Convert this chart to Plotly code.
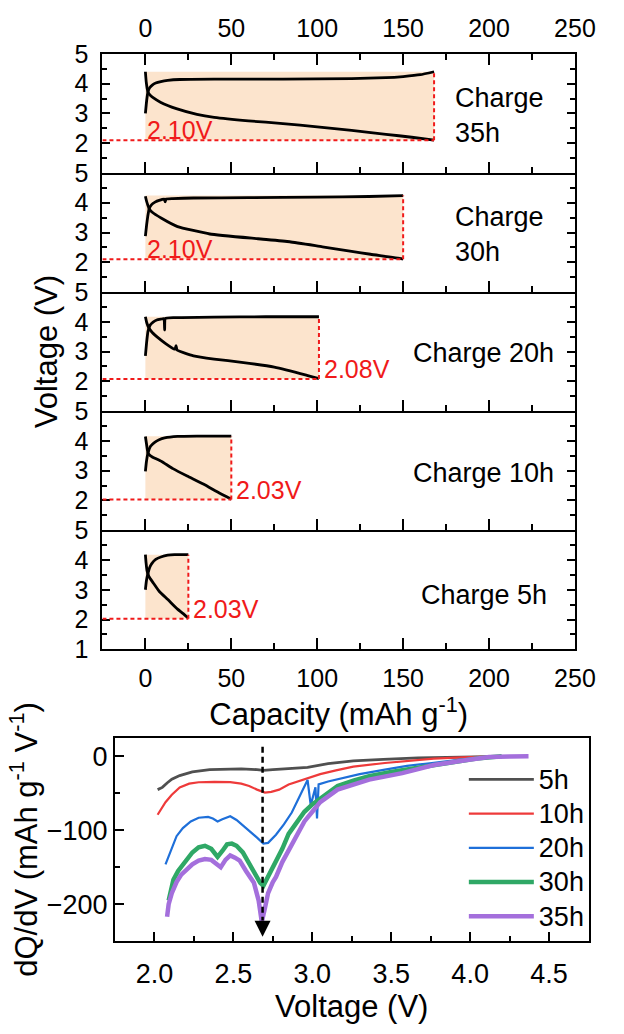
import plotly.graph_objects as go

# ---------------- Data: charge/discharge profiles (top panels) ----------------
panel_names = ["35h", "30h", "20h", "10h", "5h"]
cap_end = [168, 150, 101, 50, 25]
cutoff_v = [2.10, 2.10, 2.08, 2.03, 2.03]
top_v = [4.40, 4.24, 4.17, 4.16, 4.18]
cutoff_labels = ["2.10V", "2.10V", "2.08V", "2.03V", "2.03V"]

charge_cap_35 = [0, 0.5, 1, 1.5, 2.5, 4, 6, 9, 13, 20, 40, 80, 120, 140, 150, 160, 168]
charge_v_35 = [3.0, 3.3, 3.55, 3.73, 3.86, 3.95, 4.02, 4.07, 4.11, 4.14, 4.15, 4.15, 4.17, 4.2, 4.24, 4.3, 4.4]
dis_cap_35 = [0, 0.5, 1, 1.5, 2.5, 4.5, 9, 18, 30, 40, 60, 80, 100, 120, 140, 155, 168]
dis_v_35 = [4.4, 4.05, 3.85, 3.73, 3.63, 3.53, 3.37, 3.16, 2.97, 2.87, 2.75, 2.66, 2.55, 2.43, 2.3, 2.2, 2.1]

charge_cap_30 = [0, 0.7, 1.4, 2.2, 3.5, 5.6, 8, 11, 11.5, 12, 16, 28, 60, 100, 130, 150]
charge_v_30 = [2.88, 3.25, 3.55, 3.8, 3.93, 4.02, 4.08, 4.12, 4.03, 4.12, 4.14, 4.16, 4.17, 4.19, 4.21, 4.24]
dis_cap_30 = [0, 0.7, 1.4, 2.2, 4, 9.4, 18.7, 37.5, 65.5, 84, 103, 120, 131, 149, 150]
dis_v_30 = [4.22, 4.05, 3.92, 3.8, 3.68, 3.48, 3.2, 2.95, 2.79, 2.69, 2.52, 2.37, 2.27, 2.12, 2.1]

charge_cap_20 = [0, 0.7, 1.5, 2.8, 4.5, 6.6, 9, 10.8, 11.2, 11.6, 16.9, 40, 70, 101]
charge_v_20 = [2.86, 3.3, 3.68, 3.89, 3.99, 4.06, 4.09, 4.11, 3.73, 4.11, 4.14, 4.16, 4.17, 4.17]
dis_cap_20 = [0, 0.8, 1.9, 4, 7.5, 12, 16.9, 17.4, 17.8, 18.5, 28, 40, 56, 75, 93.6, 101]
dis_v_20 = [4.17, 3.97, 3.81, 3.64, 3.46, 3.26, 3.08, 3.1, 3.2, 3.05, 2.86, 2.75, 2.64, 2.48, 2.21, 2.09]

charge_cap_10 = [0, 0.6, 1.5, 3, 5.6, 8, 11.2, 18.7, 30, 50]
charge_v_10 = [2.98, 3.3, 3.6, 3.82, 3.96, 4.04, 4.1, 4.15, 4.16, 4.16]
dis_cap_10 = [0, 0.7, 1.5, 3, 5.5, 9.4, 16, 24.3, 33.7, 43, 50]
dis_v_10 = [4.15, 3.88, 3.6, 3.5, 3.42, 3.31, 3.07, 2.82, 2.55, 2.25, 2.04]

charge_cap_5 = [0, 0.6, 1.5, 2.5, 3.7, 6, 9.4, 13, 16.9, 25]
charge_v_5 = [3.0, 3.3, 3.55, 3.75, 3.88, 4.02, 4.11, 4.16, 4.18, 4.18]
dis_cap_5 = [0, 0.4, 0.9, 2, 4.7, 8, 13.1, 18.7, 22, 25]
dis_v_5 = [4.18, 3.9, 3.66, 3.45, 3.22, 2.95, 2.67, 2.35, 2.2, 2.04]

charge_caps = [charge_cap_35, charge_cap_30, charge_cap_20, charge_cap_10, charge_cap_5]
charge_vs = [charge_v_35, charge_v_30, charge_v_20, charge_v_10, charge_v_5]
dis_caps = [dis_cap_35, dis_cap_30, dis_cap_20, dis_cap_10, dis_cap_5]
dis_vs = [dis_v_35, dis_v_30, dis_v_20, dis_v_10, dis_v_5]

cap_ticks = [0, 50, 100, 150, 200, 250]

# ---------------- Data: dQ/dV (bottom chart) ----------------
dq_names = ["5h", "10h", "20h", "30h", "35h"]

v_5h = [2.02, 2.05, 2.08, 2.11, 2.16, 2.24, 2.35, 2.45, 2.55, 2.65, 2.69, 2.75, 2.85, 2.97, 3.1, 3.26, 3.45, 3.67, 3.85, 4.04, 4.12, 4.2]
q_5h = [-45, -42, -36, -31, -26, -21, -18, -17, -17, -18, -19, -18, -17, -15, -10, -6, -4, -2, -1.5, -1, -0.5, 0]

v_10h = [2.02, 2.04, 2.07, 2.11, 2.16, 2.22, 2.28, 2.38, 2.48, 2.55, 2.6, 2.65, 2.7, 2.74, 2.79, 2.85, 2.97, 3.05, 3.15, 3.26, 3.46, 3.65, 3.77, 3.95, 4.08, 4.17]
q_10h = [-79, -72, -62, -52, -42, -37, -35, -34.5, -35, -37, -40, -45, -49, -48, -45, -38, -29, -24, -19, -14, -9, -5, -3, -1.5, -0.5, 0]

v_20h = [2.07, 2.09, 2.11, 2.14, 2.18, 2.23, 2.28, 2.34, 2.37, 2.4, 2.43, 2.46, 2.48, 2.52, 2.56, 2.61, 2.65, 2.69, 2.72, 2.77, 2.82, 2.87, 2.91, 2.95, 2.97, 2.99, 3.01, 3.02, 3.03, 3.04, 3.1, 3.16, 3.3, 3.46, 3.6, 3.77, 3.95, 4.08, 4.16]
q_20h = [-146, -135, -123, -108, -97, -88, -83, -82, -84, -88, -85, -82, -81, -86, -93, -102, -110, -118, -117, -106, -92, -76, -58, -42, -32, -66, -50, -42, -84, -38, -34, -31, -24, -18, -13, -8.7, -4, -2, 0]

v_30h = [2.09, 2.1, 2.12, 2.15, 2.2, 2.24, 2.28, 2.32, 2.36, 2.38, 2.4, 2.43, 2.46, 2.49, 2.52, 2.56, 2.6, 2.64, 2.67, 2.69, 2.71, 2.74, 2.77, 2.81, 2.85, 2.9, 2.95, 3.0, 3.06, 3.16, 3.26, 3.36, 3.5, 3.67, 3.87, 4.04, 4.2]
q_30h = [-195, -185, -167, -155, -141, -130, -123, -121, -125, -131, -136, -128, -119, -118, -121, -130, -145, -160, -171, -175, -167, -155, -141, -125, -105, -90, -75, -65, -56, -40, -33, -27, -21, -16, -8.7, -3, 0]

v_35h = [2.08, 2.09, 2.11, 2.14, 2.17, 2.2, 2.24, 2.28, 2.32, 2.36, 2.39, 2.42, 2.45, 2.48, 2.51, 2.54, 2.58, 2.63, 2.66, 2.68, 2.7, 2.72, 2.75, 2.77, 2.81, 2.85, 2.9, 2.95, 3.0, 3.05, 3.16, 3.26, 3.36, 3.57, 3.77, 3.98, 4.12, 4.25, 4.37]
q_35h = [-217, -200, -185, -170, -160, -154, -146, -141, -139, -140, -146, -150, -140, -134, -137, -141, -155, -171, -195, -224, -205, -185, -170, -163, -143, -128, -108, -88, -75, -62, -45, -38, -31.5, -22.7, -11.8, -5, -1, -0.3, 0]

dq_v = [v_5h, v_10h, v_20h, v_30h, v_35h]
dq_q = [q_5h, q_10h, q_20h, q_30h, q_35h]
volt_ticks = [2.0, 2.5, 3.0, 3.5, 4.0, 4.5]
dq_ticks = [0, -100, -200]
peak_voltage = 2.685

# ---------------- Styling ----------------
FONT = "Liberation Sans, Arial, sans-serif"
W, H = 624, 1034
dq_colors = ["#505050", "#EE3A3A", "#1E6FD9", "#2FA866", "#A46FDC"]
dq_widths = [2.8, 2.2, 2.2, 4.5, 4.5]
shade = "rgb(252,228,205)"
red = "#F01A1A"

fig = go.Figure()

left_px, right_px = 106, 595
top_px, panel_h = 41, 122.4

layout = dict(
    width=W, height=H, autosize=False,
    margin=dict(l=0, r=0, t=0, b=0),
    paper_bgcolor="white", plot_bgcolor="rgba(0,0,0,0)",
    font=dict(family=FONT, color="black"),
    showlegend=True,
)
shapes = []
annotations = []

for k in range(5):
    i = k + 1
    xa = "x" if i == 1 else f"x{i}"
    ya = "y" if i == 1 else f"y{i}"
    t = top_px + panel_h * k
    b = t + panel_h
    for cx, cy in ((charge_caps[k], charge_vs[k]), (dis_caps[k], dis_vs[k])):
        fig.add_trace(go.Scatter(x=cx, y=cy, mode="lines",
                                 line=dict(color="black", width=2.8, shape="spline", smoothing=0.4),
                                 xaxis=xa, yaxis=ya, showlegend=False, hoverinfo="skip"))
    # shaded region
    shapes.append(dict(type="rect", xref=xa, yref=ya, x0=0, x1=cap_end[k],
                       y0=cutoff_v[k], y1=top_v[k], fillcolor=shade,
                       line=dict(width=0), layer="below"))
    # dashed cutoff lines
    shapes.append(dict(type="line", xref=xa, yref=ya, x0=-25, x1=cap_end[k],
                       y0=cutoff_v[k], y1=cutoff_v[k],
                       line=dict(color=red, width=2, dash="4px,3px")))
    shapes.append(dict(type="line", xref=xa, yref=ya, x0=cap_end[k], x1=cap_end[k],
                       y0=cutoff_v[k], y1=top_v[k],
                       line=dict(color=red, width=2, dash="4px,3px")))
    # cutoff label
    if k < 2:
        lx, ly = 0, cutoff_v[k] + 0.34
    else:
        lx, ly = cap_end[k] + 1.5, cutoff_v[k] + 0.33
    annotations.append(dict(xref=xa, yref=ya, x=lx, y=ly, text=cutoff_labels[k],
                            showarrow=False, xanchor="left", yanchor="middle",
                            font=dict(size=25, color=red, family=FONT)))
    # charge label
    if k < 2:
        annotations.append(dict(xref=xa, yref=ya, x=179, y=2.93,
                                text=f"Charge<br>{panel_names[k]}", align="left",
                                showarrow=False, xanchor="left", yanchor="middle",
                                font=dict(size=27, color="black", family=FONT)))
    else:
        annotations.append(dict(xref=xa, yref=ya, x=197, y=[2.97, 2.92, 2.83][k - 2],
                                text=f"Charge {panel_names[k]}",
                                showarrow=False, xanchor="center", yanchor="middle",
                                font=dict(size=27, color="black", family=FONT)))

    xdict = dict(
        domain=[left_px / W, right_px / W], range=[-25, 250],
        anchor=ya, tickvals=cap_ticks, ticks="inside", ticklen=11, tickwidth=2,
        tickcolor="black", showline=True, linewidth=2, linecolor="black",
        showgrid=False, zeroline=False, tickfont=dict(size=25, family=FONT),
        minor=dict(ticks="inside", dtick=25, tick0=0, ticklen=6, tickwidth=2, tickcolor="black"),
    )
    if i == 1:
        xdict.update(side="top", mirror="ticks", showticklabels=True, ticklabelstandoff=5)
    elif i == 5:
        xdict.update(side="bottom", mirror=False, showticklabels=True, ticklabelstandoff=6,
                     title=dict(text="Capacity (mAh g<sup>-1</sup>)", standoff=0,
                                font=dict(size=31, family=FONT)))
    else:
        xdict.update(side="bottom", mirror=False, showticklabels=False)
    if i > 1:
        xdict["matches"] = "x"

    ydict = dict(
        domain=[1 - b / H, 1 - t / H], range=[1, 5],
        anchor=xa, tickvals=[1, 2, 3, 4, 5] if i == 5 else [2, 3, 4, 5],
        ticks="inside", ticklen=8, tickwidth=2, tickcolor="black",
        showline=True, linewidth=2, linecolor="black", mirror="ticks",
        showgrid=False, zeroline=False, tickfont=dict(size=25, family=FONT),
        ticklabelstandoff=7,
        minor=dict(ticks="inside", dtick=0.5, tick0=0, ticklen=5, tickwidth=2, tickcolor="black"),
    )
    if i == 3:
        ydict["title"] = dict(text="Voltage (V)", standoff=8, font=dict(size=31, family=FONT))
    layout["xaxis" if i == 1 else f"xaxis{i}"] = xdict
    layout["yaxis" if i == 1 else f"yaxis{i}"] = ydict

# ---------------- Bottom chart ----------------
for name, vv, qq, c, w in zip(dq_names, dq_v, dq_q, dq_colors, dq_widths):
    fig.add_trace(go.Scatter(x=vv, y=qq, mode="lines",
                             name=f"<span style='font-size:27px'>{name}</span>",
                             line=dict(color=c, width=w),
                             xaxis="x6", yaxis="y6"))

layout["xaxis6"] = dict(
    domain=[119 / W, 609 / W], range=[1.75, 4.75], anchor="y6",
    tickvals=volt_ticks, ticktext=[f"{v:.1f}" for v in volt_ticks],
    ticks="inside", ticklen=9, tickwidth=2, tickcolor="black",
    showline=True, linewidth=2, linecolor="black", mirror=True,
    showgrid=False, zeroline=False, tickfont=dict(size=27, family=FONT),
    ticklabelstandoff=7,
    minor=dict(ticks="inside", dtick=0.25, tick0=0, ticklen=5, tickwidth=2, tickcolor="black"),
    title=dict(text="Voltage (V)", standoff=8, font=dict(size=31, family=FONT)),
)
layout["yaxis6"] = dict(
    domain=[1 - 953 / H, 1 - 744 / H], range=[-250, 25], anchor="x6",
    tickvals=dq_ticks, ticks="inside", ticklen=9, tickwidth=2, tickcolor="black",
    showline=True, linewidth=2, linecolor="black", mirror=True,
    showgrid=False, zeroline=False, tickfont=dict(size=27, family=FONT),
    minor=dict(ticks="inside", dtick=50, tick0=0, ticklen=5, tickwidth=2, tickcolor="black"),
    title=dict(text="dQ/dV (mAh g<sup>-1</sup> V<sup>-1</sup>)", standoff=0,
               font=dict(size=31, family=FONT)),
)

# dashed arrow marking the peak
shapes.append(dict(type="line", xref="x6", yref="y6", x0=peak_voltage, x1=peak_voltage,
                   y0=13, y1=-222, line=dict(color="black", width=2.5, dash="6px,4px")))
annotations.append(dict(xref="x6", yref="y6", axref="x6", ayref="y6",
                        x=peak_voltage, y=-244, ax=peak_voltage, ay=-222, text="",
                        showarrow=True, arrowhead=2, arrowsize=1.6, arrowwidth=2,
                        arrowcolor="black"))

layout["legend"] = dict(x=480 / W, y=1 - 764 / H, xanchor="left", yanchor="top",
                        bgcolor="rgba(0,0,0,0)", font=dict(size=24, family=FONT),
                        itemwidth=65, tracegroupgap=0)
layout["shapes"] = shapes
layout["annotations"] = annotations

fig.update_layout(**layout)
fig.write_html("out.html")
